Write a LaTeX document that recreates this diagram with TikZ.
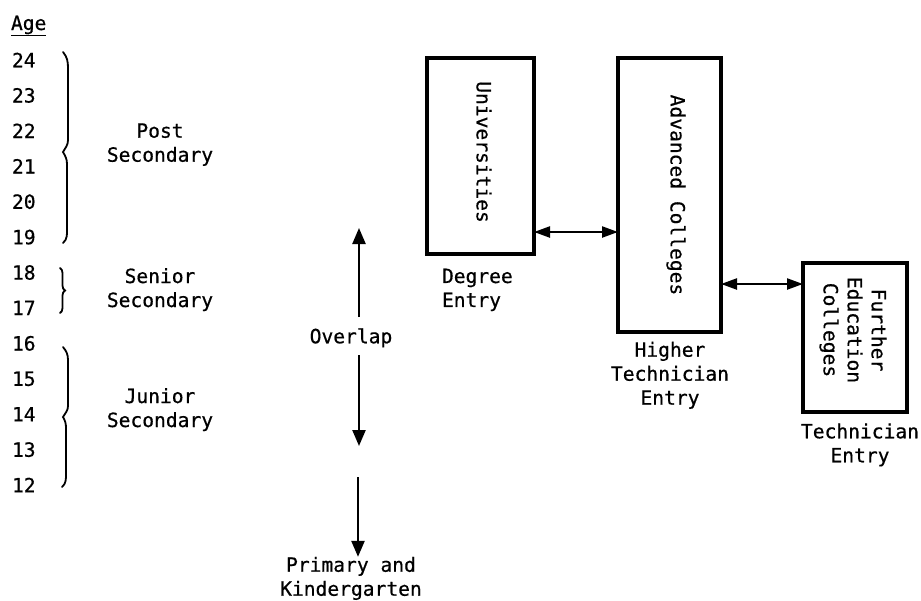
\documentclass[tikz,border=0pt]{standalone}
\usepackage{fontspec}
\setmainfont[FakeBold=0.6]{DejaVu Sans Mono}
\usetikzlibrary{arrows.meta,decorations.pathreplacing,calc}
\begin{document}
\begin{tikzpicture}[x=1pt,y=-1pt,
  every node/.style={font=\fontsize{19.6pt}{24pt}\selectfont, inner sep=0pt, outer sep=0pt},
  lbl/.style={align=center},
  box/.style={draw, line width=3.5pt, minimum width=#1, rectangle},
  brc/.style={line width=1.8pt, line cap=round},
  vline/.style={line width=2.3pt, -{Triangle[length=16pt,width=13pt]}},
  dbl/.style={line width=2.3pt, {Triangle[length=16pt,width=11pt]}-{Triangle[length=16pt,width=11pt]}}
]
\useasboundingbox[fill=white] (0,0) rectangle (921,600);

% Age column
\node[anchor=base west] (age) at (11,30) {Age};
\draw[line width=1.3pt] ($(age.base west)+(0,5.5)$) -- ($(age.base east)+(0,5.5)$);
\foreach \a [count=\i from 0] in {24,23,22,21,20,19,18,17,16,15,14,13,12}{
  \node[anchor=west] (n\a) at (12,{60+35.42*\i}) {\a};
}

% braces
\draw[brc] (63,52) to[out=-50,in=90] (68,68) -- (68,140) to[out=-90,in=60] (63,152) to[out=-60,in=90] (67,164) -- (67,228) to[out=-90,in=40] (63,243);
\draw[brc, decorate, decoration={brace, amplitude=5pt}] (60,268) -- (60,313);
\draw[brc] (63,347) to[out=-50,in=90] (68,360) -- (68,406) to[out=-90,in=60] (63,417) to[out=-60,in=90] (66,428) -- (66,474) to[out=-90,in=40] (62,487);

% level labels
\node[lbl] (post) at (160,144.6) {Post\\Secondary};
\node[lbl] (senior) at (160,289.6) {Senior\\Secondary};
\node[lbl] (junior) at (160,409.6) {Junior\\Secondary};

% overlap arrows
\node (overlap) at (351,337.8) {Overlap};
\coordinate (ovtop) at (359,228);
\coordinate (ovbot) at (359,446);
\coordinate (o1) at (359,317);
\coordinate (o2) at (359,355);
\draw[vline] (o1) -- (ovtop);
\draw[vline] (o2) -- (ovbot);
\node[lbl] (primary) at (351,578.4) {Primary and\\Kindergarten};
\coordinate (prtop) at (358,477);
\draw[vline] (prtop) -- (primary.north -| prtop);

% boxes
\node[box=107pt, minimum height=196pt] (univ) at (480.5,156) {};
\node[rotate=-90] (univt) at (484,152) {Universities};
\node[anchor=north west, align=left] (degree) at (442,268.7) {Degree\\Entry};

\node[box=103pt, minimum height=274pt] (adv) at (669.5,195) {};
\node[rotate=-90] (advt) at (676,195) {Advanced Colleges};
\node[anchor=north, align=center] (higher) at (670,341.8) {Higher\\Technician\\Entry};

\node[box=104pt, minimum height=149pt] (fec) at (855,337.5) {};
\node[rotate=-90, align=center] (fect) at (853,330) {Further\\Education\\Colleges};
\node[anchor=north, align=center] (tech) at (860,423.4) {Technician\\Entry};

% horizontal connectors
\draw[dbl] (univ.east |- 0,232) -- (adv.west |- 0,232);
\draw[dbl] (adv.east |- 0,284) -- (fec.west |- 0,284);
\end{tikzpicture}
\end{document}
